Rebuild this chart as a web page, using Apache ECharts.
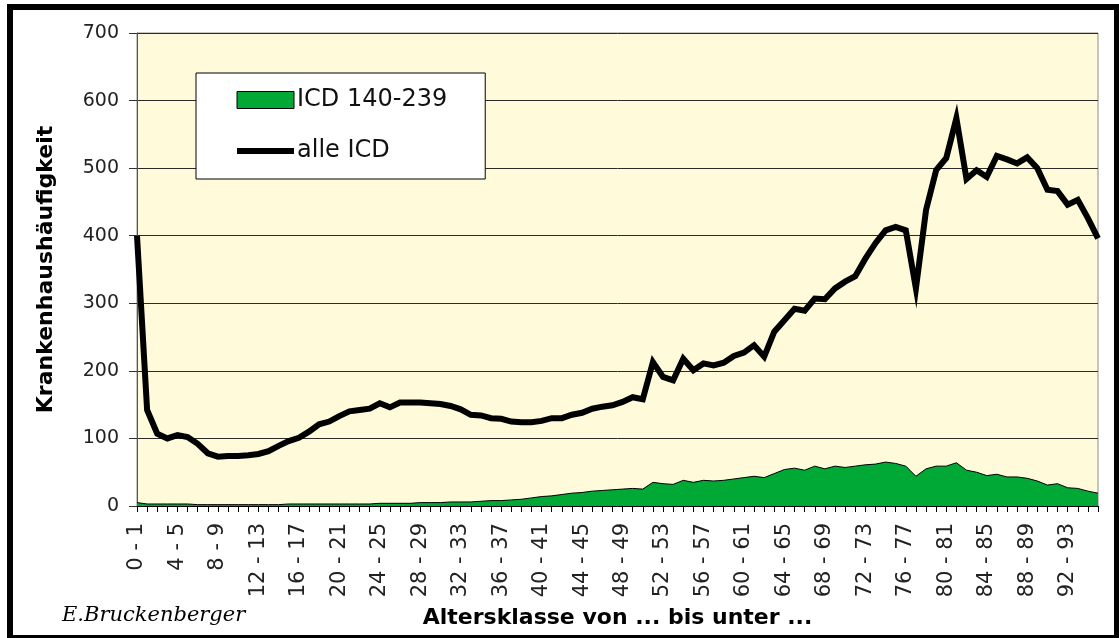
<!DOCTYPE html>
<html>
<head>
<meta charset="utf-8">
<script src="https://cdn.jsdelivr.net/npm/echarts@6/dist/echarts.min.js"></script>
<style>
  html, body { margin: 0; padding: 0; background: #fff; }
  #chart { width: 1119px; height: 638px; }
</style>
</head>
<body>
<div id="chart"></div>
<script>
// age classes "0 - 1" ... "95 - 96"
const ageFrom = [];
for (let a = 0; a <= 95; a++) ageFrom.push(a);
const categories = ageFrom.map(a => a + ' - ' + (a + 1));

const icd140 = [
  5, 3, 3, 3, 3, 3, 2, 2, 2, 2, 2, 2, 2, 2, 2, 3, 3, 3, 3, 3,
  3, 3, 3, 3, 4, 4, 4, 4, 5, 5, 5, 6, 6, 6, 7, 8, 8, 9, 10, 12,
  14, 15, 17, 19, 20, 22, 23, 24, 25, 26, 25, 35, 33, 32, 38, 35, 38, 37, 38, 40,
  42, 44, 42, 48, 54, 56, 53, 59, 55, 59, 57, 59, 61, 62, 65, 63, 59, 44, 55, 59,
  59, 64, 53, 50, 45, 47, 43, 43, 41, 37, 31, 33, 27, 26, 22, 19
];

const alleICD = [
  400, 142, 107, 100, 105, 102, 92, 78, 73, 74, 74, 75, 77, 81, 89, 96, 101, 110, 121, 125,
  133, 140, 142, 144, 152, 146, 153, 153, 153, 152, 151, 148, 143, 135, 134, 130, 129, 125, 124, 124,
  126, 130, 130, 135, 138, 144, 147, 149, 154, 161, 158, 213, 191, 186, 218, 201, 211, 208, 212, 222,
  227, 238, 221, 258, 275, 292, 289, 307, 306, 322, 332, 340, 366, 389, 408, 413, 408, 322, 438, 497,
  515, 574, 484, 497, 487, 518, 513, 507, 516, 500, 468, 466, 446, 453, 426, 396
];

const yTicks = [0, 100, 200, 300, 400, 500, 600, 700];

const chart = echarts.init(document.getElementById('chart'));
const font = 'DejaVu Sans';

const option = {
  animation: false,
  backgroundColor: '#ffffff',
  graphic: [{
    type: 'rect',
    shape: { x: 10, y: 7, width: 1107, height: 631 },
    style: { fill: 'none', stroke: '#000', lineWidth: 6 },
    silent: true
  }, {
    type: 'text',
    left: 62, top: 605,
    style: {
      text: 'E.Bruckenberger',
      font: 'italic 21px "DejaVu Serif"',
      fill: '#000'
    }
  }],
  grid: {
    left: 137, top: 33, right: 21, bottom: 132,
    show: true,
    backgroundColor: '#fffbda',
    borderColor: '#8c8c8c',
    borderWidth: 1
  },
  legend: {
    orient: 'vertical',
    left: 196, top: 73,
    backgroundColor: '#fff',
    borderColor: '#000',
    borderWidth: 1,
    padding: [15, 38, 16, 38],
    itemGap: 27,
    itemWidth: 57,
    itemHeight: 17,
    textStyle: { fontFamily: font, fontSize: 24, color: '#111', lineHeight: 24, padding: [0, 0, 0, -2] },
    data: [
      { name: 'ICD 140-239', icon: 'rect', itemStyle: { color: '#00a835', borderColor: '#000', borderWidth: 1 } },
      { name: 'alle ICD', itemStyle: { opacity: 0 }, lineStyle: { color: '#000', width: 6 } }
    ]
  },
  xAxis: {
    type: 'category',
    data: categories,
    boundaryGap: false,
    name: 'Altersklasse von ... bis unter ...',
    nameLocation: 'middle',
    nameGap: 101,
    nameTextStyle: { fontFamily: font, fontSize: 22, fontWeight: 'bold', color: '#000' },
    axisLine: { lineStyle: { color: '#000', width: 1 } },
    axisTick: { show: true, interval: 0, length: 6, lineStyle: { color: '#000' } },
    axisLabel: {
      interval: 3,
      rotate: 90,
      margin: 17,
      fontFamily: font,
      fontSize: 21,
      color: '#222'
    },
    splitLine: { show: false }
  },
  yAxis: {
    type: 'value',
    min: yTicks[0],
    max: yTicks[yTicks.length - 1],
    interval: 100,
    name: 'Krankenhaushäufigkeit',
    nameLocation: 'middle',
    nameGap: 80,
    nameRotate: 90,
    nameTextStyle: { fontFamily: font, fontSize: 22, fontWeight: 'bold', color: '#000' },
    axisLine: { show: true, lineStyle: { color: '#555', width: 1 } },
    axisTick: { show: true, length: 8, lineStyle: { color: '#333' } },
    axisLabel: { margin: 18, fontFamily: font, fontSize: 19, color: '#222' },
    splitLine: { lineStyle: { color: '#2a2a2a', width: 1 } }
  },
  series: [
    {
      name: 'ICD 140-239',
      type: 'line',
      data: icd140,
      symbol: 'none',
      itemStyle: { color: '#00a835' },
      lineStyle: { color: '#000', width: 1 },
      areaStyle: { color: '#00a835', opacity: 1 },
      z: 2
    },
    {
      name: 'alle ICD',
      type: 'line',
      data: alleICD,
      symbol: 'none',
      itemStyle: { color: '#000' },
      lineStyle: { color: '#000', width: 6, join: 'miter' },
      z: 3
    }
  ]
};

chart.setOption(option);
</script>
</body>
</html>
